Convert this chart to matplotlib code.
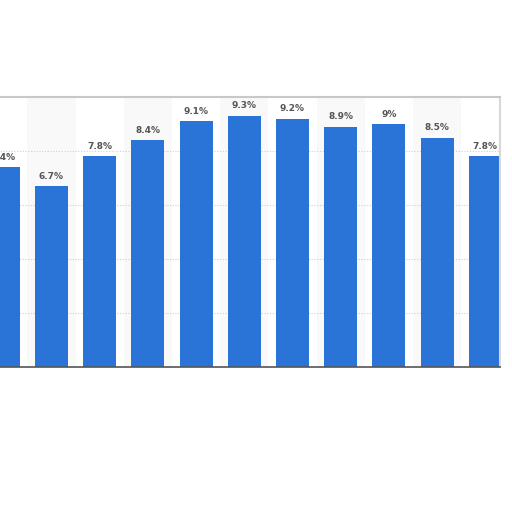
import matplotlib
matplotlib.use("Agg")
import matplotlib.pyplot as plt

categories = ["1", "2", "3", "4", "5", "6", "7", "8", "9", "10", "11"]
values = [7.4, 6.7, 7.8, 8.4, 9.1, 9.3, 9.2, 8.9, 9.0, 8.5, 7.8]
labels = ["7.4%", "6.7%", "7.8%", "8.4%", "9.1%", "9.3%", "9.2%", "8.9%", "9%", "8.5%", "7.8%"]

fig = plt.figure(figsize=(5.12, 5.12), dpi=100)
ax = fig.add_axes([0, 145/512, 500/512, 270/512])
x = list(range(len(categories)))

for i in x:
    if i % 2 == 1:
        ax.axvspan(i - 0.5, i + 0.5, color="#f9f9f9", zorder=0, lw=0)

for yv in [2, 4, 6, 8]:
    ax.axhline(yv, color="#d0d0d0", lw=0.8, ls=(0, (1, 1.5)), zorder=1)

ax.bar(x, values, width=0.685, color="#2a74d8", zorder=2)
for i, v, t in zip(x, values, labels):
    ax.text(i, v + 0.2, t, ha="center", va="bottom", fontsize=6.5, fontweight="semibold", color="#555555", zorder=3)

ax.set_xlim(-0.068, 10.305)
ax.set_ylim(0, 10)
ax.set_xticks([])
ax.set_yticks([])
ax.spines["left"].set_visible(False)
ax.spines["top"].set_color("#c8c8c8")
ax.spines["top"].set_linewidth(1.5)
ax.spines["right"].set_color("#d8d8d8")
ax.spines["right"].set_linewidth(1.5)
ax.spines["bottom"].set_color("#555555")
ax.spines["bottom"].set_linewidth(1.2)
fig.savefig("out.png", dpi=100, facecolor="white")
